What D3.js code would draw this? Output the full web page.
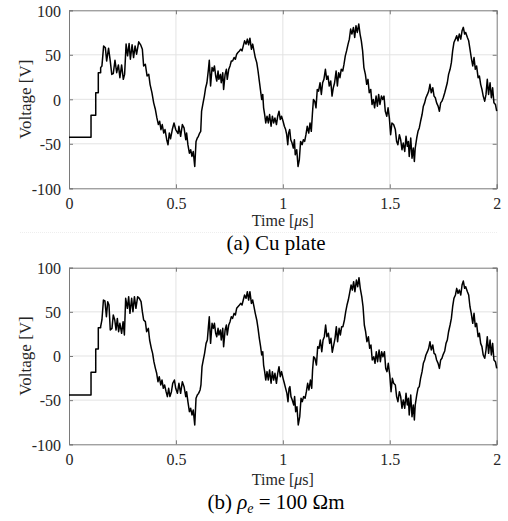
<!DOCTYPE html>
<html><head><meta charset="utf-8">
<script src="https://cdn.jsdelivr.net/npm/d3@7"></script>
<style>
html,body{margin:0;padding:0;background:#fff;}
svg, svg text{font-family:'Liberation Serif','Times New Roman',serif !important;}
</style></head>
<body><svg id="chart" width="508" height="521"></svg>
<script>
const ticksX = [0, 0.5, 1, 1.5, 2];
const ticksY = [-100, -50, 0, 50, 100];
const xLabel = "Time [", xUnit = "\u03BC", xLabelEnd = "s]";
const yLabel = "Voltage [V]";

// (a) Cu plate : [time in µs, voltage in V]
const seriesA = [[0,-42.7],[0.103,-42.7],[0.103,-17.9],[0.125,-17.9],[0.125,7.3],[0.137,7.3],[0.137,29.9],[0.148,29.9],[0.148,35.6],[0.154,37.5],[0.162,60],[0.170,58],[0.176,43],[0.185,57.4],[0.193,43],[0.200,28],[0.207,28.8],[0.215,43.9],[0.223,29.9],[0.231,38.6],[0.238,24.3],[0.246,38.6],[0.254,22.4],[0.260,28],[0.267,62],[0.274,48.8],[0.281,62.7],[0.287,45],[0.295,61.2],[0.302,46.9],[0.309,60],[0.316,50.7],[0.326,64.6],[0.335,61.2],[0.343,56.3],[0.349,37.5],[0.357,39.4],[0.365,26.2],[0.373,28],[0.379,16.8],[0.388,7.3],[0.396,-4],[0.404,-11.5],[0.411,-20.9],[0.418,-28.4],[0.424,-24.7],[0.430,-34.1],[0.436,-28.4],[0.443,-37.9],[0.449,-34],[0.457,-45.4],[0.463,-51],[0.469,-37.9],[0.475,-44.3],[0.483,-34],[0.491,-26.6],[0.499,-34],[0.510,-38.5],
[0.514,-30.3],[0.522,-41.6],[0.530,-28.4],[0.538,-32.2],[0.546,-45.4],[0.550,-37.9],[0.556,-51],[0.563,-60.5],[0.569,-56.7],[0.575,-64.2],[0.581,-58.6],[0.588,-75.5],[0.594,-47.3],[0.600,-43.5],[0.605,-41.6],[0.611,-37.9],[0.616,-36],[0.620,-13.4],[0.627,-4],[0.633,3.6],[0.639,13],[0.645,18.6],[0.652,33.7],[0.656,43.9],[0.662,14.9],[0.669,35.6],[0.675,31.8],[0.680,37.5],[0.686,26.2],[0.691,20.5],[0.697,31.8],[0.701,22.4],[0.708,28],[0.712,18.6],[0.719,29.9],[0.723,11.1],[0.730,28],[0.736,33.7],[0.740,22.4],[0.747,33.7],[0.753,37.5],[0.759,43.1],[0.765,43.1],[0.772,46.9],[0.778,45],[0.784,50.7],[0.790,52.5],[0.797,54.4],[0.803,56.3],[0.809,54.4],[0.815,60],[0.821,65.7],[0.828,62],[0.834,67.6],[0.840,61.2],[0.846,68.7],[0.853,56.3],[0.859,62],[0.865,54.4],[0.871,46.9],[0.878,41.2],[0.884,31.8],[0.890,20.5],[0.896,9.2],[0.901,-0.2],[0.906,5.5],[0.910,-9.6],[0.915,-17.1],[0.920,-26.6],[0.926,-19],[0.932,-26.6],[0.938,-17.1],[0.945,-30.3],[0.951,-19],[0.957,-26.6],[0.963,-20.9],[0.970,-28.4],[0.976,-19],[0.982,-13.4],[0.988,-22.8],[0.994,-19],[1.001,-24.7],[1.007,-30.3],[1.013,-34],
[1.018,-39.7],[1.023,-51],[1.027,-37.9],[1.032,-34],[1.037,-45.4],[1.043,-49.2],[1.049,-54.8],[1.054,-45.4],[1.058,-62.3],[1.065,-56.7],[1.071,-75.5],[1.077,-68],[1.083,-47.3],[1.090,-51],[1.096,-45.4],[1.102,-47.3],[1.108,-39.7],[1.114,-30.3],[1.121,-37.9],[1.127,-26.6],[1.133,-36],[1.138,-17.1],[1.143,-0.2],[1.149,-2.1],[1.155,-9.6],[1.161,11.1],[1.167,9.2],[1.174,18.6],[1.180,5.5],[1.186,18.6],[1.192,22.4],[1.199,33.7],[1.205,22.4],[1.211,26.2],[1.217,14.9],[1.224,20.5],[1.230,3.6],[1.236,13],[1.242,18.6],[1.249,31.8],[1.255,14.9],[1.261,29.9],[1.267,24.3],[1.273,33.7],[1.280,31.8],[1.286,39.4],[1.292,48.8],[1.298,54.4],[1.305,62],[1.311,67.6],[1.317,78.9],[1.323,73.3],[1.330,80.8],[1.336,69.5],[1.342,82.7],[1.348,75.1],[1.355,84.6],[1.361,73.3],[1.367,65.7],[1.373,54.4],[1.379,35.6],[1.386,28],[1.392,16.8],[1.398,22.4],[1.404,7.3],[1.411,11.1],[1.417,-5.8],[1.423,-0.2],[1.429,-9.6],[1.436,3.6],[1.442,-7.7],[1.448,5.5],[1.454,-5.8],[1.461,3.6],[1.467,-0.2],[1.473,3.6],[1.479,-13.4],[1.486,-19],[1.492,-9.6],[1.498,-20.9],[1.504,-39.7],[1.510,-26.6],[1.518,-28.4],
[1.526,-34],[1.532,-47.3],[1.538,-51],[1.545,-39.7],[1.551,-45.4],[1.557,-56.7],[1.563,-49.2],[1.570,-58.6],[1.576,-41.6],[1.582,-52.9],[1.587,-47.3],[1.591,-64.2],[1.598,-43.5],[1.604,-66.1],[1.610,-54.8],[1.615,-69.9],[1.619,-54.8],[1.626,-43.5],[1.632,-36],[1.638,-32.2],[1.644,-24.7],[1.651,-17.1],[1.657,-7.7],[1.663,-4],[1.669,1.7],[1.676,5.5],[1.682,9.2],[1.688,16.8],[1.694,7.3],[1.701,13],[1.707,3.6],[1.713,1.7],[1.719,-4],[1.726,-7.7],[1.732,-13.4],[1.738,-4],[1.744,-2.1],[1.750,1.7],[1.757,7.3],[1.763,13],[1.769,18.6],[1.775,28],[1.782,33.7],[1.788,41.2],[1.794,54.4],[1.800,63.8],[1.807,67.6],[1.813,71.4],[1.819,65.7],[1.825,73.3],[1.832,67.6],[1.838,77],[1.844,80.8],[1.850,73.3],[1.855,75.1],[1.863,69.5],[1.869,65.7],[1.875,56.3],[1.881,46.9],[1.888,37.5],[1.894,46.9],[1.900,33.7],[1.906,37.5],[1.913,24.3],[1.919,26.2],[1.925,16.8],[1.931,11.1],[1.937,3.6],[1.944,-2.1],[1.950,5.5],[1.956,22.4],[1.962,5.5],[1.969,18.6],[1.975,1.7],[1.981,13],[1.987,-4],[1.994,-5.8],[2.000,-13.4]];

// (b) rho_e = 100 Ohm m : [time in µs, voltage in V]
const seriesB = [[0,-44.2],[0.103,-44.2],[0.103,-18.5],[0.125,-18.5],[0.125,7.9],[0.137,7.9],[0.137,32.1],[0.148,32.1],[0.148,33.2],[0.154,40.8],[0.161,63.4],[0.168,62.3],[0.175,44.5],[0.181,61.5],[0.187,57.7],[0.193,29.4],[0.201,31.3],[0.207,46.4],[0.214,40.8],[0.220,29.4],[0.226,42.6],[0.232,27.5],[0.238,37],[0.246,25.7],[0.253,38.9],[0.259,23.8],[0.265,65.3],[0.273,54],[0.279,67.2],[0.285,48.3],[0.293,65.3],[0.299,50.2],[0.306,67.2],[0.313,54],[0.321,67.2],[0.329,65.3],[0.337,61.5],[0.343,50.2],[0.349,40.8],[0.357,38.9],[0.363,27.5],[0.371,31.3],[0.377,18.1],[0.385,8.7],[0.391,3],[0.397,-6.4],[0.404,-14],[0.410,-19.6],[0.416,-29.1],[0.422,-23.4],[0.429,-32.8],[0.435,-27.2],[0.441,-36.6],[0.447,-32.8],[0.454,-40.4],[0.460,-46],[0.466,-36.6],[0.472,-46],[0.479,-40.4],[0.485,-30.9],[0.493,-27.2],[0.499,-36.6],[0.507,-42.3],
[0.514,-30.9],[0.522,-42.3],[0.530,-29.1],[0.538,-34.7],[0.546,-46],[0.550,-40.4],[0.556,-51.7],[0.563,-63],[0.569,-59.2],[0.575,-66.8],[0.581,-61.1],[0.588,-78.1],[0.594,-47.9],[0.600,-44.2],[0.606,-42.3],[0.613,-38.5],[0.617,-32.8],[0.622,-12.1],[0.628,-4.5],[0.634,3],[0.641,14.3],[0.647,18.1],[0.652,33.2],[0.656,44.5],[0.662,14.3],[0.669,37],[0.675,31.3],[0.680,37],[0.686,25.7],[0.691,21.9],[0.697,31.3],[0.701,23.8],[0.708,29.4],[0.712,18.1],[0.719,31.3],[0.723,10.6],[0.730,29.4],[0.736,35.1],[0.740,23.8],[0.747,35.1],[0.753,38.9],[0.759,44.5],[0.765,42.6],[0.772,48.3],[0.778,46.4],[0.784,54],[0.790,55.8],[0.797,57.7],[0.803,59.6],[0.809,57.7],[0.815,63.4],[0.821,69.1],[0.828,65.3],[0.834,72.8],[0.840,63.4],[0.846,72.8],[0.853,59.6],[0.859,63.4],[0.865,55.8],[0.871,48.3],[0.878,40.8],[0.884,31.3],[0.890,20],[0.896,10.6],[0.901,1.1],[0.906,4.9],[0.910,-10.2],[0.915,-17.7],[0.920,-27.2],[0.926,-17.7],[0.932,-27.2],[0.938,-15.8],[0.945,-30.9],[0.951,-17.7],[0.957,-27.2],[0.963,-19.6],[0.970,-30.9],[0.976,-19.6],[0.982,-12.1],[0.988,-23.4],[0.994,-17.7],[1.001,-25.3],[1.007,-30.9],[1.013,-36.6],
[1.019,-42.3],[1.024,-51.7],[1.029,-36.6],[1.033,-34.7],[1.038,-46],[1.044,-49.8],[1.051,-55.5],[1.055,-46],[1.060,-63],[1.066,-57.4],[1.072,-78.1],[1.079,-68.7],[1.085,-47.9],[1.091,-51.7],[1.097,-46],[1.104,-47.9],[1.110,-40.4],[1.116,-30.9],[1.122,-38.5],[1.129,-27.2],[1.135,-36.6],[1.139,-15.8],[1.144,-0.8],[1.150,-2.6],[1.157,-10.2],[1.163,10.6],[1.169,8.7],[1.175,18.1],[1.182,4.9],[1.188,18.1],[1.194,21.9],[1.200,35.1],[1.206,21.9],[1.213,25.7],[1.219,14.3],[1.225,20],[1.231,4.2],[1.238,12.5],[1.244,20],[1.250,33.2],[1.256,16.2],[1.263,31.3],[1.269,23.8],[1.275,33.2],[1.281,33.2],[1.288,40.8],[1.294,50.2],[1.300,57.7],[1.306,63.4],[1.312,70.9],[1.319,80.4],[1.325,74.7],[1.331,84.2],[1.337,72.8],[1.344,86],[1.350,78.5],[1.356,88.7],[1.362,76.6],[1.369,67.2],[1.375,55.8],[1.381,35.1],[1.387,27.5],[1.393,16.2],[1.400,21.9],[1.406,8.7],[1.412,12.5],[1.418,-4.5],[1.425,-0.8],[1.431,-8.3],[1.437,4.9],[1.443,-6.4],[1.450,6.8],[1.456,-6.4],[1.462,4.9],[1.468,-0.8],[1.475,4.9],[1.481,-14],[1.487,-17.7],[1.493,-8.3],[1.500,-21.5],[1.506,-40.4],[1.512,-25.3],[1.518,-30.9],
[1.526,-32.8],[1.532,-46],[1.538,-51.7],[1.545,-40.4],[1.551,-46],[1.557,-59.2],[1.563,-49.8],[1.570,-59.2],[1.576,-42.3],[1.582,-55.5],[1.587,-47.9],[1.591,-66.8],[1.598,-44.2],[1.604,-68.7],[1.610,-55.5],[1.615,-72.5],[1.619,-55.5],[1.626,-44.2],[1.632,-36.6],[1.638,-34.7],[1.644,-25.3],[1.651,-17.7],[1.657,-8.3],[1.663,-4.5],[1.669,1.1],[1.676,4.9],[1.682,8.7],[1.688,16.2],[1.694,6.8],[1.701,12.5],[1.707,3],[1.713,1.9],[1.719,-4.5],[1.726,-8.3],[1.732,-14],[1.738,-4.5],[1.744,-2.6],[1.750,1.9],[1.757,5.7],[1.763,14.3],[1.769,18.1],[1.775,27.5],[1.782,35.1],[1.788,42.6],[1.794,55.8],[1.800,65.3],[1.807,69.1],[1.813,76.6],[1.819,70.9],[1.825,74.7],[1.832,69.1],[1.838,80.4],[1.844,84.9],[1.850,76.6],[1.855,78.5],[1.863,72.8],[1.869,69.1],[1.875,55.8],[1.881,48.3],[1.888,37],[1.894,48.3],[1.900,33.2],[1.906,37],[1.913,21.9],[1.919,25.7],[1.925,14.3],[1.931,10.6],[1.937,1.1],[1.944,-2.6],[1.950,6.8],[1.956,21.9],[1.962,3],[1.969,18.1],[1.975,1.1],[1.981,14.3],[1.987,-4.5],[1.994,-6.4],[2.000,-14]];

const FONT = "'Liberation Serif','Times New Roman',serif";
const svg = d3.select("#chart");
const left = 69, right = 496.7;
const x = d3.scaleLinear().domain([0, 2]).range([left, right]);

const panels = [
  {data: seriesA, top: 10.3, bottom: 188.3, tickBase: 209, labelBase: 226, capBase: 249.5, cap: "a"},
  {data: seriesB, top: 267.7, bottom: 444.3, tickBase: 465, labelBase: 485, capBase: 509, cap: "b"}
];

const textCol = "#262626";

panels.forEach(p => {
  const y = d3.scaleLinear().domain([-100, 100]).range([p.bottom, p.top]);
  const g = svg.append("g").style("font-family", FONT);

  // grid
  g.append("g").selectAll("line").data(ticksX.slice(1, -1)).join("line")
    .attr("x1", d => x(d)).attr("x2", d => x(d)).attr("y1", p.top).attr("y2", p.bottom)
    .attr("stroke", "#e3e3e3").attr("stroke-width", 1);
  g.append("g").selectAll("line").data(ticksY.slice(1, -1)).join("line")
    .attr("y1", d => y(d)).attr("y2", d => y(d)).attr("x1", left).attr("x2", right)
    .attr("stroke", "#e3e3e3").attr("stroke-width", 1);

  // axes with inward ticks
  const ax = d3.axisBottom(x).tickValues(ticksX).tickSize(-4).tickPadding(10).tickFormat(d => String(d));
  const axT = d3.axisTop(x).tickValues(ticksX).tickSize(-4).tickFormat("");
  const ay = d3.axisLeft(y).tickValues(ticksY).tickSize(-4).tickPadding(8).tickFormat(d => String(d));
  const ayR = d3.axisRight(y).tickValues(ticksY).tickSize(-4).tickFormat("");

  const gx = g.append("g").attr("transform", `translate(0,${p.bottom})`).call(ax);
  const gxt = g.append("g").attr("transform", `translate(0,${p.top})`).call(axT);
  const gy = g.append("g").attr("transform", `translate(${left},0)`).call(ay);
  const gyr = g.append("g").attr("transform", `translate(${right},0)`).call(ayR);
  [gx, gxt, gy, gyr].forEach(a => {
    a.attr("font-family", null).style("font-family", FONT);
    a.select(".domain").attr("stroke", "#7a7a7a").attr("stroke-width", 1);
    a.selectAll(".tick line").attr("stroke", "#7a7a7a");
    a.selectAll(".tick text").attr("fill", textCol).style("font-size", "16px").style("font-family", FONT);
  });
  gx.selectAll(".tick text").attr("dy", null).attr("y", p.tickBase - p.bottom);
  gy.selectAll(".tick text").attr("dy", "0.36em");

  // series line
  const line = d3.line().x(d => x(d[0])).y(d => y(d[1]));
  g.append("path").datum(p.data).attr("d", line)
    .attr("fill", "none").attr("stroke", "#000").attr("stroke-width", 1.5)
    .attr("stroke-linejoin", "round");

  // y label
  g.append("text").attr("transform", `translate(31,${(p.top + p.bottom) / 2}) rotate(-90)`)
    .attr("text-anchor", "middle").style("font-size", "17px").attr("fill", textCol).text(yLabel);

  // x label
  const xl = g.append("text").attr("x", (left + right) / 2).attr("y", p.labelBase)
    .attr("text-anchor", "middle").style("font-size", "16px").attr("fill", textCol);
  xl.append("tspan").text(xLabel);
  xl.append("tspan").attr("font-style", "italic").text(xUnit);
  xl.append("tspan").text(xLabelEnd);

  // caption
  const c = g.append("text").attr("x", 276).attr("y", p.capBase)
    .attr("text-anchor", "middle").style("font-size", "21px").attr("fill", "#000");
  if (p.cap === "a") {
    c.text("(a) Cu plate");
  } else {
    c.append("tspan").text("(b) ");
    c.append("tspan").attr("font-style", "italic").text("\u03C1");
    c.append("tspan").attr("font-style", "italic").style("font-size", "14px").attr("dy", 4).text("e");
    c.append("tspan").attr("dy", -4).text(" = 100 \u03A9m");
  }
});

// faint separator under the first panel
svg.append("line").attr("x1", 20).attr("x2", 497).attr("y1", 232.5).attr("y2", 232.5)
  .attr("stroke", "#eeeeee").attr("stroke-width", 1).attr("stroke-dasharray", "1,1");
</script>
</body></html>
